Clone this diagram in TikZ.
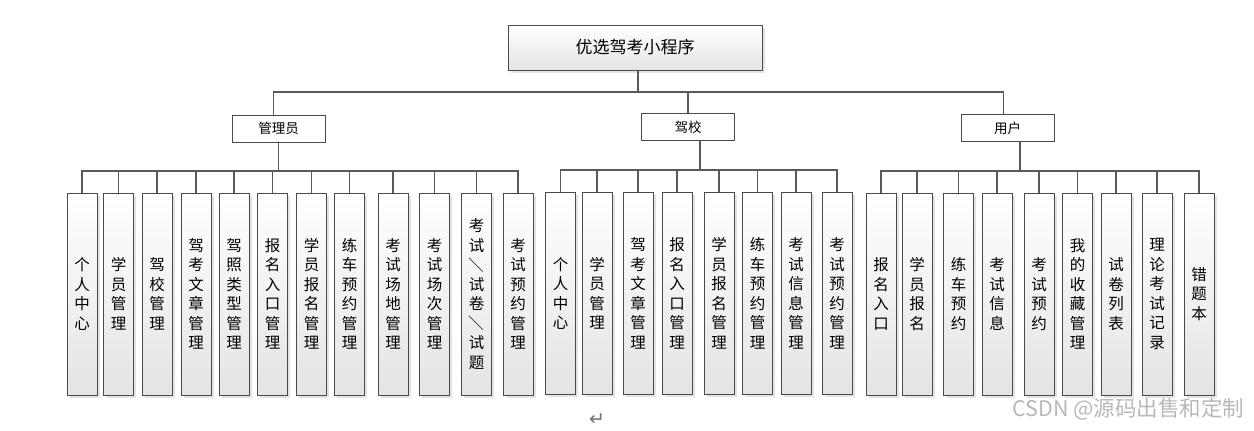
\documentclass[tikz,border=0pt]{standalone}
\usepackage{fontspec}
\setmainfont{Noto Sans CJK SC}
\newfontfamily\symfont{DejaVu Sans}
\usetikzlibrary{shadows}

\definecolor{boxline}{HTML}{4A4A4A}
\definecolor{busline}{HTML}{5A5A5A}
\definecolor{boxfill}{HTML}{E4E4E4}

\tikzset{
  box/.style={draw=boxline, line width=1pt, inner sep=0pt, top color=white, bottom color=boxfill,
    drop shadow={shadow xshift=2.5pt, shadow yshift=-2.5pt, fill=black!22}},
  leaf/.style={box, minimum width=30pt, minimum height=202pt, align=center,
    font=\fontsize{15.5}{19.5}\selectfont},
  role/.style={draw=boxline, line width=1pt, fill=white, minimum width=93pt, minimum height=27pt,
    inner sep=0pt, font=\fontsize{13.5}{15}\selectfont},
  link/.style={draw=busline, line width=1.3pt},
}

\begin{document}
\begin{tikzpicture}[x=1pt,y=-1pt]
  \useasboundingbox (0,0) rectangle (1254,431);

  \node [box, minimum width=254pt, minimum height=45pt, font=\fontsize{17}{20}\selectfont] (app) at (635,47.5) {优选驾考小程序};

  \node [role] (admin) at (278.5,128.5) {管理员};
  \node [role] (school) at (688,127) {驾校};
  \node [role] (user) at (1007.5,128) {用户};

  \coordinate (bus) at (638,92);
  \draw [link] (app.south -| bus) -- (bus);
  \draw [link] ([xshift=-5pt]admin.north) |- (bus) -| ([xshift=-4pt]user.north);
  \draw [link] (school.north) -- (school.north |- bus);

  \foreach \i/\x/\t in {1/82/{个\\人\\中\\心}, 2/118.5/{学\\员\\管\\理}, 3/157/{驾\\校\\管\\理},
      4/196/{驾\\考\\文\\章\\管\\理}, 5/234/{驾\\照\\类\\型\\管\\理}, 6/272.5/{报\\名\\入\\口\\管\\理},
      7/311.5/{学\\员\\报\\名\\管\\理}, 8/349.5/{练\\车\\预\\约\\管\\理}, 9/393/{考\\试\\场\\地\\管\\理},
      10/434.5/{考\\试\\场\\次\\管\\理},
      11/476.5/{考\\试\\\rotatebox[origin=c]{-90}{／}\\试\\卷\\\rotatebox[origin=c]{-90}{／}\\试\\题},
      12/518/{考\\试\\预\\约\\管\\理}}
    \node [leaf] (a\i) at (\x,294) {\t};

  \foreach \i/\x/\t in {1/560.5/{个\\人\\中\\心}, 2/597/{学\\员\\管\\理}, 3/638/{驾\\考\\文\\章\\管\\理},
      4/677/{报\\名\\入\\口\\管\\理}, 5/719/{学\\员\\报\\名\\管\\理}, 6/757.5/{练\\车\\预\\约\\管\\理},
      7/796/{考\\试\\信\\息\\管\\理}, 8/837/{考\\试\\预\\约\\管\\理}}
    \node [leaf] (s\i) at (\x,293.5) {\t};

  \foreach \i/\x/\t in {1/881/{报\\名\\入\\口}, 2/917/{学\\员\\报\\名}, 3/958.5/{练\\车\\预\\约},
      4/997/{考\\试\\信\\息}, 5/1039/{考\\试\\预\\约}, 6/1077.5/{我\\的\\收\\藏\\管\\理},
      7/1116/{试\\卷\\列\\表}, 8/1157/{理\\论\\考\\试\\记\\录}, 9/1199/{错\\题\\本}}
    \node [leaf] (u\i) at (\x,294) {\t};

  \coordinate (abus) at (278,171);
  \draw [link] (admin.south) -- (admin.south |- abus);
  \draw [link] (a1.north) |- (abus) -| (a12.north);
  \foreach \i in {2,...,11}
    \draw [link] (a\i.north) -- (a\i.north |- abus);

  \coordinate (sbus) at (700,170);
  \draw [link] (school.south -| sbus) -- (sbus);
  \draw [link] (s1.north) |- (sbus) -| (s8.north);
  \foreach \i in {2,...,7}
    \draw [link] (s\i.north) -- (s\i.north |- sbus);

  \coordinate (ubus) at (1020,171);
  \draw [link] (user.south -| ubus) -- (ubus);
  \draw [link] (u1.north) |- (ubus) -| (u9.north);
  \foreach \i in {2,...,8}
    \draw [link] (u\i.north) -- (u\i.north |- ubus);

  \node [text=black!55, font=\symfont\fontsize{19}{19}\selectfont] (ret) at (597,420) {↵};
  \node [text=black!28, anchor=east, font=\fontsize{21.5}{22}\selectfont] (mark) at (1248,409) {CSDN @源码出售和定制};
\end{tikzpicture}
\end{document}
